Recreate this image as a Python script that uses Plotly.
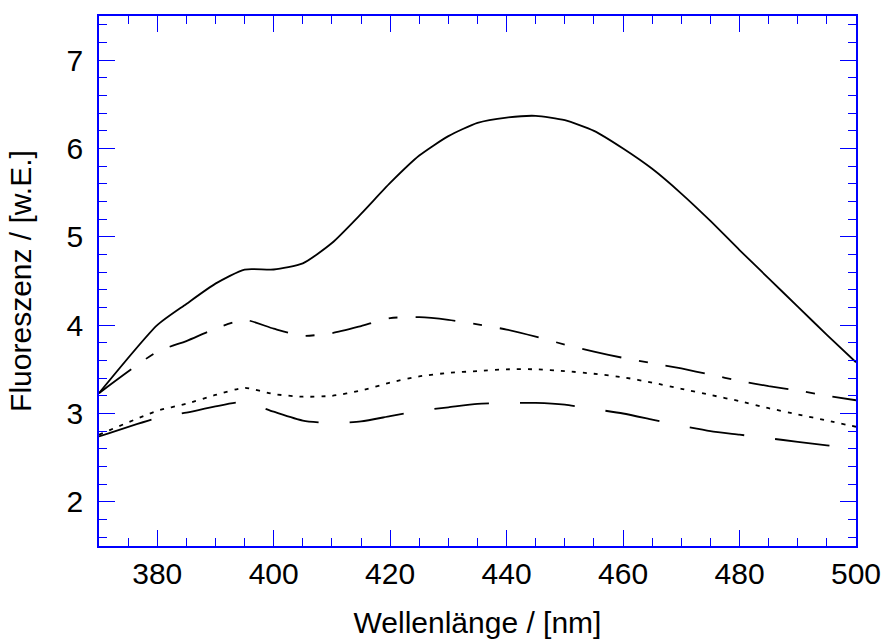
import plotly.graph_objects as go

wavelength = [370, 380, 385, 390, 395, 400, 405, 410, 415, 420, 425, 430, 435,
              440, 445, 450, 455, 460, 465, 470, 475, 480, 485, 490, 495, 500]

solid = [3.23, 4.00, 4.24, 4.47, 4.63, 4.63, 4.70, 4.93, 5.26, 5.61, 5.92, 6.14, 6.29,
         6.35, 6.37, 6.32, 6.20, 6.00, 5.77, 5.49, 5.18, 4.85, 4.53, 4.21, 3.89, 3.58]

dashdot = [3.23, 3.70, 3.82, 3.96, 4.06, 3.96, 3.88, 3.91, 3.99, 4.08, 4.09, 4.06, 4.01,
           3.95, 3.87, 3.78, 3.70, 3.63, 3.57, 3.51, 3.44, 3.37, 3.31, 3.26, 3.20, 3.15]

dotted = [2.76, 3.03, 3.11, 3.21, 3.29, 3.22, 3.19, 3.20, 3.26, 3.35, 3.42, 3.46, 3.48,
          3.50, 3.50, 3.48, 3.45, 3.41, 3.35, 3.28, 3.21, 3.14, 3.06, 2.99, 2.92, 2.85]

longdash = [2.74, 2.95, 3.01, 3.08, 3.13, 3.02, 2.92, 2.89, 2.91, 2.97, 3.03, 3.07, 3.11,
            3.12, 3.12, 3.10, 3.05, 3.00, 2.93, 2.86, 2.80, 2.76, 2.72, 2.68, 2.64, 2.60]

x_ticks = [380, 400, 420, 440, 460, 480, 500]
y_ticks = [2, 3, 4, 5, 6, 7]

FONT = "Liberation Sans, Arial, sans-serif"
BLUE = "#0000ff"

fig = go.Figure()
series = [
    (solid, "solid"),
    (dashdot, "40px,18px,9px,18px"),
    (dotted, "4px,7px"),
    (longdash, "55px,31px"),
]
for ys, dash in series:
    fig.add_trace(go.Scatter(
        x=wavelength, y=ys, mode="lines",
        line=dict(color="black", width=1.8, dash=dash, shape="spline", smoothing=0.6),
        showlegend=False, hoverinfo="skip",
    ))

axis_common = dict(
    showline=True, linecolor=BLUE, linewidth=1.5, mirror="ticks",
    ticks="inside", ticklen=16, tickwidth=1.2, tickcolor=BLUE,
    showgrid=False, zeroline=False, automargin=False,
    tickfont=dict(family=FONT, size=30, color="black"),
)

fig.update_layout(
    width=882, height=639,
    margin=dict(l=99, r=26, t=16, b=93),
    paper_bgcolor="white", plot_bgcolor="white",
    font=dict(family=FONT, color="black"),
    xaxis=dict(
        range=[370, 500], tickvals=x_ticks,
        minor=dict(dtick=5, tick0=370, ticks="inside", ticklen=8, tickwidth=1.2, tickcolor=BLUE, showgrid=False),
        title=dict(text="Wellenlänge / [nm]", font=dict(family=FONT, size=30), standoff=24),
        **axis_common,
    ),
    yaxis=dict(
        range=[1.5, 7.5], tickvals=y_ticks, ticklabelstandoff=8,
        minor=dict(dtick=0.2, tick0=1.6, ticks="inside", ticklen=8, tickwidth=1.2, tickcolor=BLUE, showgrid=False),
        title=dict(text="Fluoreszenz / [w.E.]", font=dict(family=FONT, size=30), standoff=26),
        **axis_common,
    ),
)

fig.write_html("out.html")
